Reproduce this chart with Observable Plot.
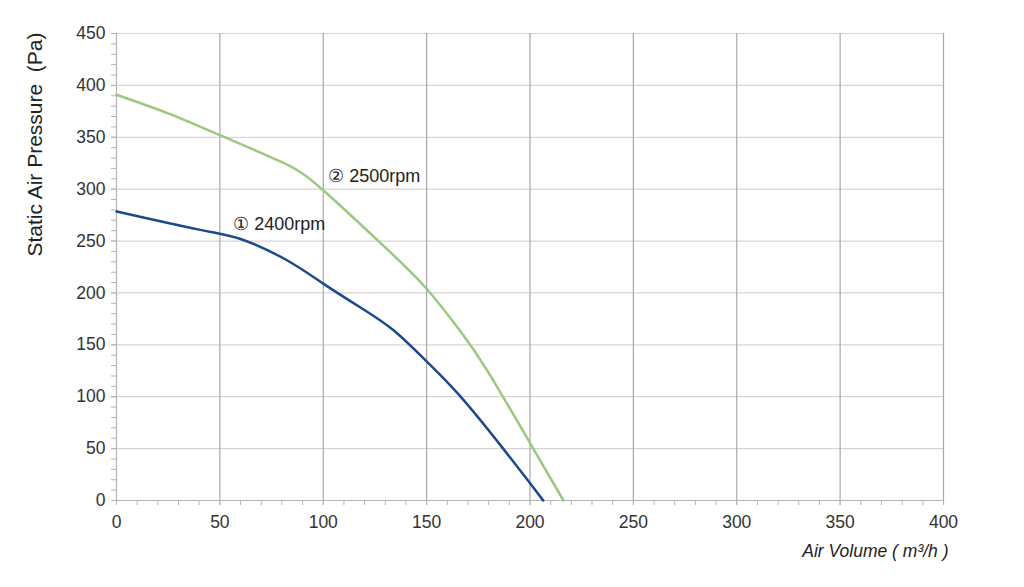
<!DOCTYPE html>
<html>
<head>
<meta charset="utf-8">
<script src="https://cdn.jsdelivr.net/npm/d3@7"></script>
<script src="https://cdn.jsdelivr.net/npm/@observablehq/plot@0.6"></script>
<style>
  html, body { margin: 0; padding: 0; background: #fff; }
  #chart svg { font-family: "Liberation Sans", Arial, sans-serif; }
</style>
</head>
<body>
<div id="chart"></div>
<script>
// Air volume (m³/h) and static pressure (Pa)
const rpm2400X = [0, 40, 60, 82, 100, 118, 134, 150, 166, 187, 206.4];
const rpm2400Y = [278.5, 261, 252, 232, 209, 186, 164, 134, 101, 50, 0];
const rpm2500X = [0, 25, 50, 80, 100, 131.5, 150, 166, 180, 201, 216.2];
const rpm2500Y = [391, 373, 352, 326, 299, 241, 204, 164, 123, 52, 0];
const xTicks = [0, 50, 100, 150, 200, 250, 300, 350, 400];
const yTicks = [0, 50, 100, 150, 200, 250, 300, 350, 400, 450];
const xMinor = d3.range(0, 401, 10);
const yMinor = d3.range(0, 451, 10);
const seriesNames = ["① 2400rpm", "② 2500rpm"];
const labelX = [56.5, 102.4];
const labelY = [266, 312];

const data = [
  ...rpm2400X.map((x, i) => ({series: seriesNames[0], x, y: rpm2400Y[i]})),
  ...rpm2500X.map((x, i) => ({series: seriesNames[1], x, y: rpm2500Y[i]}))
];
const labels = seriesNames.map((s, i) => ({series: s, x: labelX[i], y: labelY[i]}));

const chart = Plot.plot({
  width: 1024,
  height: 587,
  marginLeft: 116,
  marginRight: 81,
  marginTop: 33,
  marginBottom: 87,
  style: {fontFamily: "Liberation Sans, Arial, sans-serif", background: "#fff", fontSize: "17.5px"},
  x: {type: "linear", domain: [0, 400]},
  y: {type: "linear", domain: [0, 450]},
  color: {domain: seriesNames, range: ["#1b4a91", "#9cc97e"]},
  marks: [
    Plot.ruleY(yTicks.slice(1), {stroke: "#d6d6d6", strokeWidth: 1.2}),
    Plot.ruleX(xTicks.slice(1), {stroke: "#a8a8a8", strokeWidth: 1.2}),
    Plot.ruleY([0], {stroke: "#b5b5b5", strokeWidth: 1.2}),
    Plot.ruleX([0], {stroke: "#b5b5b5", strokeWidth: 1.2}),
    Plot.axisX({ticks: xMinor, tickSize: 5, tickFormat: () => "", stroke: "#b5b5b5", label: null}),
    Plot.axisY({ticks: yMinor, tickSize: 5, tickFormat: () => "", stroke: "#b5b5b5", label: null}),
    Plot.axisX({ticks: xTicks, tickSize: 5, tickPadding: 10, fontSize: 17.5, color: "#333", stroke: "#b5b5b5", label: null}),
    Plot.axisY({ticks: yTicks, tickSize: 5, tickPadding: 6, fontSize: 17.5, color: "#333", stroke: "#b5b5b5", label: null}),
    Plot.line(data, {x: "x", y: "y", z: "series", stroke: "series", strokeWidth: 2.5, curve: "natural"}),
    Plot.text(labels, {x: "x", y: "y", text: "series", textAnchor: "start", fontSize: 18, fill: "#222"}),
    Plot.text(["Static Air Pressure  (Pa)"], {frameAnchor: "top-left", dx: -89, dy: 111, rotate: -90, textAnchor: "middle", fontSize: 21, fill: "#222"}),
    Plot.text(["Air Volume ( m³/h )"], {frameAnchor: "bottom-right", dx: 5, dy: 56, textAnchor: "end", fontStyle: "italic", fontSize: 17.5, fill: "#222"})
  ]
});
document.getElementById("chart").appendChild(chart);
</script>
</body>
</html>
